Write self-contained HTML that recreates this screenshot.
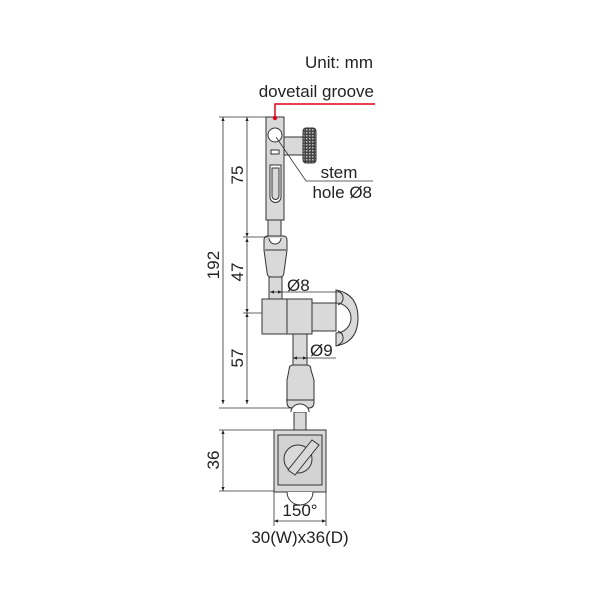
<!DOCTYPE html>
<html><head><style>html,body{margin:0;padding:0;background:#fff}svg{display:block}text{font-family:"Liberation Sans",Arial,sans-serif;fill:#222}</style></head><body>
<svg width="600" height="600" viewBox="0 0 600 600" xmlns="http://www.w3.org/2000/svg">
<defs>
<pattern id="kn" width="3" height="3" patternUnits="userSpaceOnUse"><rect width="3" height="3" fill="#444"/><rect x="0" y="0" width="1.5" height="1.5" fill="#bbb"/></pattern>
<marker id="a" viewBox="0 0 10 10" refX="10" refY="5" markerWidth="5" markerHeight="5" orient="auto-start-reverse"><path d="M0,1 L10,5 L0,9z" fill="#222"/></marker>
</defs>
<g stroke="#333" stroke-width="1" fill="#d9d9d9">
<rect x="284" y="137" width="19" height="18"/>
<rect x="303" y="128" width="13" height="35" rx="3" fill="url(#kn)"/>
<rect x="266" y="117" width="18" height="103"/>
<rect x="268" y="220" width="13" height="17"/>
<circle cx="275" cy="135" r="7" fill="#fff"/>
<path d="M271,150 h8 v4 h-8z" fill="#fff"/>
<path d="M270,165 h11 v32 a5.5,5.5 0 0 1 -11,0z" fill="#fff"/>
<path d="M272,168 h7 v28 a3.5,3.5 0 0 1 -7,0z" fill="#d9d9d9"/>
<path d="M264,240 q0,-4 4,-4 h15 q4,0 4,4 v10 l-3,22 q0,5 -4,5 h-9 q-4,0 -4,-5 l-3,-22z"/>
<path d="M269,238 a6,6 0 0 0 12,0" fill="#fff"/>
<line x1="265" y1="250" x2="286" y2="250"/>
<rect x="269" y="277" width="13" height="22"/>
<rect x="311" y="303" width="25" height="28"/>
<path d="M336,290 Q358,294 358,318 Q358,342 336,346 L336,333 A11,11 0 0 0 336,303 Z"/>
<path d="M338,291 a10,8 0 0 1 0,14 M338,331 a10,8 0 0 1 0,14" fill="none"/>
<rect x="262" y="299" width="25" height="35"/>
<rect x="287" y="299" width="25" height="35"/>
<rect x="293" y="334" width="14" height="31"/>
<path d="M289,370 q0,-5 4,-5 h14 q4,0 4,5 l3,10 v22 q0,6 -5,6 h-17 q-5,0 -5,-6 v-22z"/>
<line x1="286" y1="400" x2="314" y2="400"/>
<rect x="294" y="412" width="12" height="18"/>
<path d="M291,412 a9,8 0 0 1 18,0" fill="#fff"/>
<rect x="274" y="430" width="52" height="62"/>
<rect x="278" y="435" width="44" height="50" fill="#d2d2d2"/>
<circle cx="298" cy="459" r="14"/>
<path d="M288,470 l24,-30 l7,5 l-24,30z"/>
<path d="M287,492 a13,13 0 0 0 26,0" fill="#fff"/>
</g>
<g stroke="#333" stroke-width="0.8" fill="none">
<line x1="223" y1="117" x2="223" y2="404" marker-start="url(#a)" marker-end="url(#a)"/>
<line x1="247" y1="117" x2="247" y2="237" marker-start="url(#a)" marker-end="url(#a)"/>
<line x1="247" y1="238" x2="247" y2="313" marker-start="url(#a)" marker-end="url(#a)"/>
<line x1="247" y1="313" x2="247" y2="404" marker-start="url(#a)" marker-end="url(#a)"/>
<line x1="219" y1="117" x2="266" y2="117"/>
<line x1="243" y1="237" x2="268" y2="237"/>
<line x1="243" y1="313" x2="262" y2="313"/>
<line x1="219" y1="408" x2="292" y2="408"/>
<line x1="223" y1="430" x2="223" y2="491" marker-start="url(#a)" marker-end="url(#a)"/>
<line x1="219" y1="430" x2="274" y2="430"/>
<line x1="219" y1="491" x2="274" y2="491"/>
<line x1="274" y1="492" x2="274" y2="526"/>
<line x1="326" y1="492" x2="326" y2="526"/>
<line x1="274" y1="521" x2="326" y2="521" marker-start="url(#a)" marker-end="url(#a)"/>
<line x1="270" y1="292" x2="282" y2="292" marker-start="url(#a)" marker-end="url(#a)"/>
<line x1="282" y1="292" x2="340" y2="292"/>
<line x1="293" y1="358" x2="307" y2="358" marker-start="url(#a)" marker-end="url(#a)"/>
<line x1="307" y1="358" x2="336" y2="358"/>
<polyline points="276,137 306,181 373,181"/>
</g>
<polyline points="275,118 275,104 375,104" stroke="#e0001a" stroke-width="1.5" fill="none"/>
<circle cx="275" cy="118" r="2.2" fill="#e0001a"/>
<g font-size="17">
<text x="373" y="68" text-anchor="end">Unit: mm</text>
<text x="374" y="97" text-anchor="end">dovetail groove</text>
<text x="339" y="178" text-anchor="middle">stem</text>
<text x="372" y="198" text-anchor="end">hole Ø8</text>
<text x="287" y="291">Ø8</text>
<text x="310" y="356">Ø9</text>
<text x="300" y="516" text-anchor="middle">150°</text>
<text x="300" y="543" text-anchor="middle">30(W)x36(D)</text>
<text transform="translate(243,175) rotate(-90)" text-anchor="middle">75</text>
<text transform="translate(243,272) rotate(-90)" text-anchor="middle">47</text>
<text transform="translate(243,358) rotate(-90)" text-anchor="middle">57</text>
<text transform="translate(219,265) rotate(-90)" text-anchor="middle">192</text>
<text transform="translate(219,460) rotate(-90)" text-anchor="middle">36</text>
</g>
</svg>
</body></html>
